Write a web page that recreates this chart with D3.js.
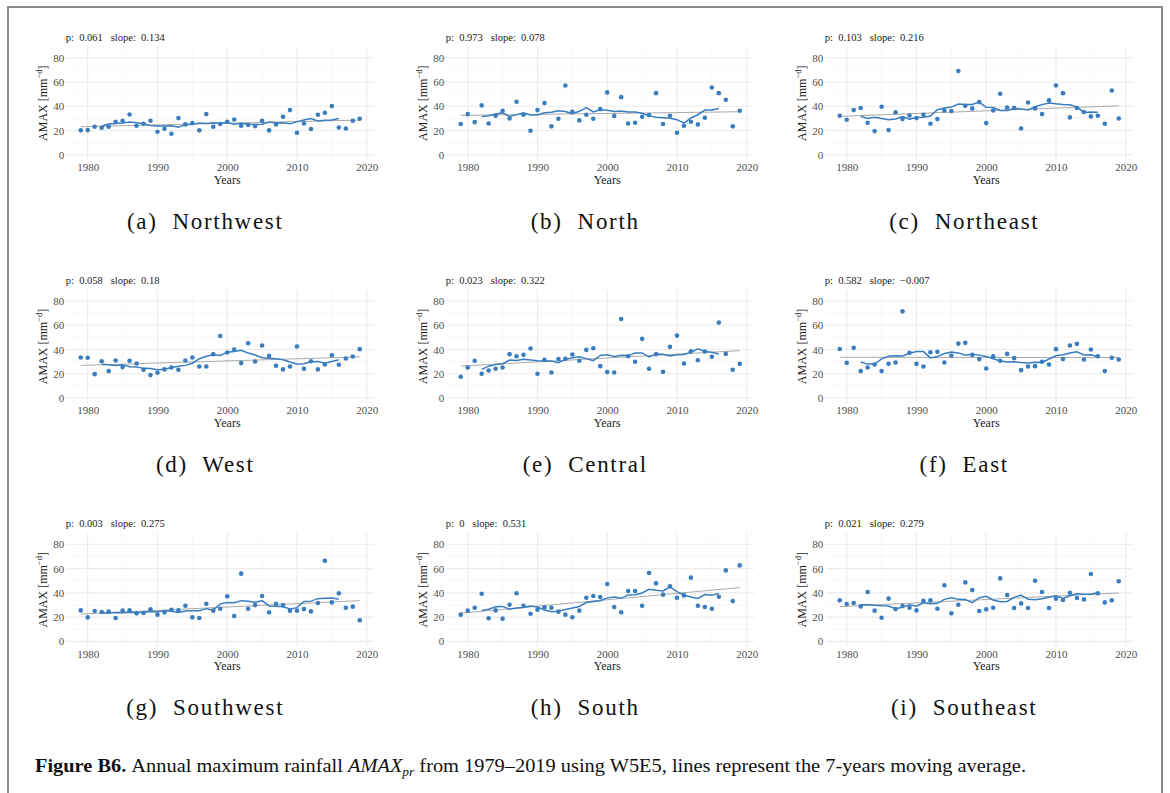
<!DOCTYPE html>
<html>
<head>
<meta charset="utf-8">
<script src="https://cdn.jsdelivr.net/npm/d3@7"></script>
<style>
  body { margin: 0; background: #fff; }
  svg { display: block; }
</style>
</head>
<body>
<svg id="chart" width="1170" height="793"></svg>
<script>
// years on the x axis
var years = d3.range(1979, 2020);

// panel labels and test results
var regionNames = ["Northwest", "North", "Northeast", "West", "Central", "East", "Southwest", "South", "Southeast"];
var panelLetters = ["a", "b", "c", "d", "e", "f", "g", "h", "i"];
var pValues = ["0.061", "0.973", "0.103", "0.058", "0.023", "0.582", "0.003", "0", "0.021"];
var slopes = ["0.134", "0.078", "0.216", "0.18", "0.322", "\u22120.007", "0.275", "0.531", "0.279"];

// AMAX values, 1979..2019
var amaxNorthwest = [20.1, 20.3, 23.1, 22.3, 23.1, 27.2, 28.0, 33.2, 23.9, 25.5, 28.0, 19.0, 21.4, 17.3, 30.2, 25.0, 26.1, 20.1, 33.5, 23.1, 25.3, 27.2, 29.1, 23.9, 24.5, 23.6, 28.0, 20.1, 25.0, 31.3, 36.8, 18.1, 25.8, 21.2, 33.0, 34.6, 40.1, 22.5, 21.7, 28.0, 29.7];
var amaxNorth = [25.3, 33.5, 26.9, 40.7, 25.8, 32.1, 36.3, 29.9, 43.7, 33.0, 19.8, 36.8, 42.6, 23.4, 29.7, 57.1, 35.4, 28.3, 33.0, 29.7, 37.6, 51.4, 31.9, 47.5, 25.8, 26.4, 31.3, 32.7, 50.8, 25.3, 32.1, 18.1, 23.9, 27.2, 25.0, 30.5, 55.5, 50.8, 45.3, 23.4, 36.3];
var amaxNortheast = [32.1, 28.8, 36.8, 38.5, 26.4, 19.5, 39.6, 20.3, 34.9, 29.4, 32.4, 30.2, 33.0, 25.5, 29.4, 36.5, 36.0, 69.0, 40.4, 38.2, 43.4, 26.1, 36.5, 50.3, 39.0, 38.5, 21.7, 43.1, 38.2, 33.5, 44.8, 57.1, 50.8, 30.8, 38.5, 35.2, 31.6, 32.1, 25.5, 53.0, 29.9];
var amaxWest = [33.4, 33.2, 19.7, 30.4, 22.2, 31.0, 25.5, 30.7, 28.5, 23.3, 18.9, 20.8, 23.6, 25.2, 23.3, 31.0, 33.4, 26.0, 26.0, 36.2, 51.2, 37.5, 40.0, 28.8, 45.2, 30.1, 43.3, 34.8, 26.6, 23.6, 26.0, 42.5, 24.1, 30.4, 23.6, 27.7, 35.3, 27.4, 32.6, 34.2, 40.3];
var amaxCentral = [17.5, 25.2, 30.7, 20.0, 22.7, 24.1, 25.2, 36.2, 34.5, 35.6, 40.8, 20.0, 31.5, 21.1, 32.1, 32.3, 35.9, 30.7, 39.7, 41.1, 26.3, 21.4, 21.1, 65.2, 34.5, 29.9, 48.8, 24.1, 36.2, 21.6, 42.2, 51.5, 28.5, 38.6, 31.2, 38.4, 34.0, 62.2, 36.4, 23.3, 28.2];
var amaxEast = [40.5, 29.0, 41.4, 22.2, 25.2, 27.7, 22.2, 28.2, 29.3, 71.5, 37.3, 28.2, 26.0, 37.8, 38.1, 29.3, 35.1, 44.9, 45.5, 35.6, 32.1, 24.4, 34.5, 30.7, 36.4, 32.9, 23.0, 26.0, 26.3, 29.9, 27.7, 40.3, 32.1, 43.3, 44.7, 31.8, 40.0, 34.5, 22.2, 33.2, 31.8];
var amaxSouthwest = [25.5, 19.8, 25.0, 24.2, 24.5, 19.2, 25.3, 25.5, 23.1, 23.4, 26.4, 22.0, 23.9, 26.1, 25.5, 29.4, 19.8, 19.2, 31.0, 25.3, 26.9, 37.1, 20.9, 55.8, 26.9, 29.9, 37.4, 23.9, 31.0, 29.9, 25.3, 25.3, 26.6, 24.7, 31.6, 66.5, 32.1, 39.6, 27.7, 28.6, 17.3];
var amaxSouth = [22.0, 25.3, 27.7, 39.3, 19.0, 25.5, 18.7, 30.2, 39.6, 29.4, 22.8, 26.1, 28.0, 27.7, 24.5, 22.0, 19.8, 25.3, 36.0, 37.4, 36.5, 47.3, 28.3, 23.9, 41.5, 41.5, 29.4, 56.3, 47.8, 38.5, 45.3, 36.0, 37.9, 52.5, 29.4, 28.3, 26.9, 36.8, 58.5, 33.2, 62.6];
var amaxSoutheast = [33.8, 30.8, 31.6, 28.8, 40.7, 25.3, 19.5, 35.2, 26.6, 29.1, 27.7, 25.5, 33.5, 33.8, 26.9, 46.2, 23.1, 30.2, 48.6, 42.3, 25.0, 26.4, 27.7, 51.9, 38.2, 27.5, 31.3, 27.5, 50.0, 40.7, 27.5, 35.2, 34.1, 40.1, 35.7, 34.6, 55.5, 39.6, 32.1, 33.8, 49.5];

var allSeries = [amaxNorthwest, amaxNorth, amaxNortheast, amaxWest, amaxCentral, amaxEast, amaxSouthwest, amaxSouth, amaxSoutheast];

var yTicks = [0, 20, 40, 60, 80];
var xTicks = [1980, 1990, 2000, 2010, 2020];

var svg = d3.select("#chart");
var blue = "#3a7dbf";
var serif = "Liberation Serif";

// gray frame round the figure
svg.append("rect")
  .attr("x", 8).attr("y", 7)
  .attr("width", 1154).attr("height", 800)
  .attr("fill", "none")
  .attr("stroke", "#8c8c8c")
  .attr("stroke-width", 2);

var colLeft = [66.8, 446.8, 825.8];
var rowTop = [46.5, 289.8, 533.1];
var plotW = 306.9, plotH = 113.4;

function drawPanel(i) {
  var data = allSeries[i];
  var left = colLeft[i % 3], top = rowTop[Math.floor(i / 3)];
  var g = svg.append("g").attr("transform", "translate(" + left + "," + top + ")");

  var x = d3.scaleLinear().domain([1977, 2021]).range([0, plotW]);
  var y = d3.scaleLinear().domain([-4.25, 89.25]).range([plotH, 0]);

  // minor grid
  [1985, 1995, 2005, 2015].forEach(function(v) {
    g.append("line").attr("x1", x(v)).attr("x2", x(v)).attr("y1", 0).attr("y2", plotH)
      .attr("stroke", "#f2f2f2").attr("stroke-width", 0.6);
  });
  [10, 30, 50, 70].forEach(function(v) {
    g.append("line").attr("x1", 0).attr("x2", plotW).attr("y1", y(v)).attr("y2", y(v))
      .attr("stroke", "#f2f2f2").attr("stroke-width", 0.6);
  });
  // major grid
  xTicks.forEach(function(v) {
    g.append("line").attr("x1", x(v)).attr("x2", x(v)).attr("y1", 0).attr("y2", plotH)
      .attr("stroke", "#ebebeb").attr("stroke-width", 1.1);
  });
  yTicks.forEach(function(v) {
    g.append("line").attr("x1", 0).attr("x2", plotW).attr("y1", y(v)).attr("y2", y(v))
      .attr("stroke", "#ebebeb").attr("stroke-width", 1.1);
  });

  // axes, no lines, only labels
  var xAxis = g.append("g").attr("transform", "translate(0," + plotH + ")")
    .call(d3.axisBottom(x).tickValues(xTicks).tickFormat(d3.format("d")).tickSize(0).tickPadding(3.5));
  var yAxis = g.append("g")
    .call(d3.axisLeft(y).tickValues(yTicks).tickSize(0).tickPadding(2.5));
  [xAxis, yAxis].forEach(function(a) {
    a.select(".domain").remove();
    a.attr("font-family", serif).attr("font-size", 11);
    a.selectAll("text").attr("fill", "#4d4d4d");
  });

  // linear trend
  var n = years.length;
  var mx = d3.mean(years), my = d3.mean(data);
  var sxy = d3.sum(years, function(v, k) { return (v - mx) * (data[k] - my); });
  var sxx = d3.sum(years, function(v) { return (v - mx) * (v - mx); });
  var b = sxy / sxx, a0 = my - b * mx;
  g.append("line")
    .attr("x1", x(years[0])).attr("y1", y(a0 + b * years[0]))
    .attr("x2", x(years[n - 1])).attr("y2", y(a0 + b * years[n - 1]))
    .attr("stroke", "#aaaaaa").attr("stroke-width", 1);

  // 7-year moving average
  var ma = [];
  for (var k = 3; k < n - 3; k++) {
    ma.push([years[k], d3.mean(data.slice(k - 3, k + 4))]);
  }
  g.append("path").datum(ma)
    .attr("fill", "none").attr("stroke", blue).attr("stroke-width", 1.5)
    .attr("d", d3.line().x(function(d) { return x(d[0]); }).y(function(d) { return y(d[1]); }));

  g.selectAll("circle").data(data).enter().append("circle")
    .attr("cx", function(d, k) { return x(years[k]); })
    .attr("cy", function(d) { return y(d); })
    .attr("r", 2.3)
    .attr("fill", blue);

  // p and slope
  g.append("text")
    .attr("x", -1).attr("y", -6)
    .attr("font-family", serif).attr("font-size", 10.5).attr("fill", "#1a1a1a")
    .attr("xml:space", "preserve")
    .text("p:  " + pValues[i] + "   slope:  " + slopes[i]);

  // axis titles
  g.append("text")
    .attr("x", x(2000)).attr("y", plotH + 24)
    .attr("text-anchor", "middle")
    .attr("font-family", serif).attr("font-size", 12).attr("fill", "#1a1a1a")
    .text("Years");
  var yt = g.append("text")
    .attr("transform", "translate(-20," + (plotH / 2) + ") rotate(-90)")
    .attr("text-anchor", "middle")
    .attr("font-family", serif).attr("font-size", 12).attr("fill", "#1a1a1a");
  yt.append("tspan").text("AMAX [mm");
  yt.append("tspan").attr("font-size", 8.5).attr("dy", -4.5).text("\u2212d");
  yt.append("tspan").attr("dy", 4.5).text("]");

  // sub-caption
  svg.append("text")
    .attr("x", left + plotW / 2 - 15).attr("y", top + 182)
    .attr("text-anchor", "middle")
    .attr("font-family", serif).attr("font-size", 23).attr("fill", "#111")
    .attr("letter-spacing", 1.7)
    .attr("xml:space", "preserve")
    .text("(" + panelLetters[i] + ")  " + regionNames[i]);
}

for (var i = 0; i < 9; i++) drawPanel(i);

// figure caption
var cap = svg.append("text")
  .attr("x", 35).attr("y", 772)
  .attr("font-family", serif).attr("font-size", 19).attr("fill", "#111")
  .attr("textLength", 991).attr("lengthAdjust", "spacingAndGlyphs");
cap.append("tspan").attr("font-weight", "bold").text("Figure B6. ");
cap.append("tspan").text("Annual maximum rainfall ");
cap.append("tspan").attr("font-style", "italic").text("AMAX");
cap.append("tspan").attr("font-style", "italic").attr("font-size", 12.5).attr("dy", 4).text("pr");
cap.append("tspan").attr("dy", -4).text(" from 1979\u20132019 using W5E5, lines represent the 7-years moving average.");
</script>
</body>
</html>
